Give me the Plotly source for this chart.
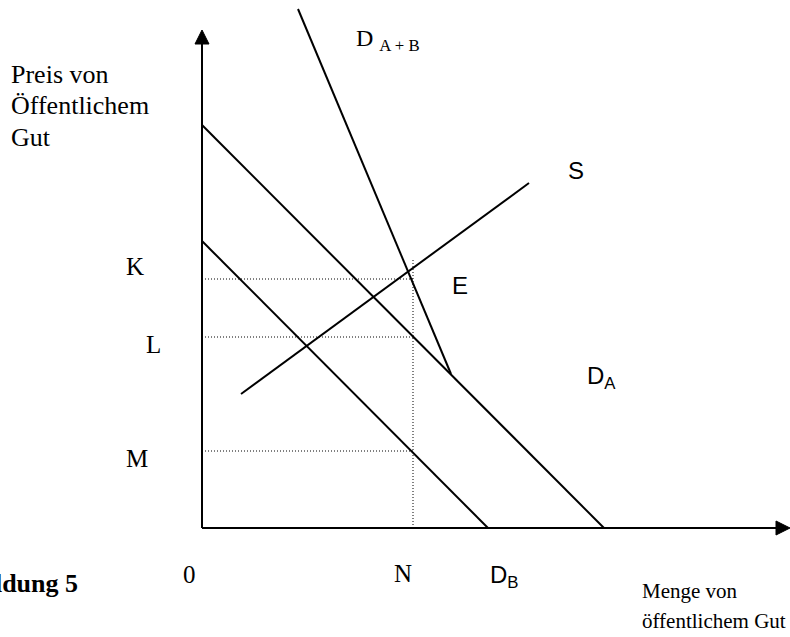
import plotly.graph_objects as go

# Quantity / price coordinates of the diagram (origin at the axis corner)
axis_x_end = 588          # end of the quantity axis (arrow tip)
axis_y_end = 498          # end of the price axis (arrow tip)

# Individual demand curves (price intercept, quantity intercept)
d_a_price, d_a_qty = 403, 402
d_b_price, d_b_qty = 287, 286

# Aggregate demand D(A+B): upper end and the kink on D_A
d_ab_x = [96, 249]
d_ab_y = [519, 154]

# Supply curve S
s_x = [39, 327]
s_y = [134, 345]

# Equilibrium quantity N and price levels K, L, M
n_qty = 211
k_price = 249
l_price = 191
m_price = 77
eq_top = 269

fig = go.Figure()

line_style = dict(color="black", width=2)
dot_style = dict(color="black", width=1, dash="1px,2px")


def seg(xs, ys, style):
    fig.add_trace(go.Scatter(x=xs, y=ys, mode="lines", line=style,
                             hoverinfo="skip", showlegend=False))


def head(points):
    xs = [p[0] for p in points] + [points[0][0]]
    ys = [p[1] for p in points] + [points[0][1]]
    fig.add_trace(go.Scatter(x=xs, y=ys, mode="lines", fill="toself",
                             fillcolor="black", line=dict(color="black", width=1),
                             hoverinfo="skip", showlegend=False))


# Axes with arrowheads
hs = 14
seg([0, 0], [0, axis_y_end - hs + 1], line_style)
head([(-7, axis_y_end - hs), (7, axis_y_end - hs), (0, axis_y_end)])
seg([0, axis_x_end - hs + 1], [0, 0], line_style)
head([(axis_x_end - hs, -7), (axis_x_end - hs, 7), (axis_x_end, 0)])

# Demand curves
seg([0, d_a_qty], [d_a_price, 0], line_style)
seg([0, d_b_qty], [d_b_price, 0], line_style)
seg(d_ab_x, d_ab_y, line_style)

# Supply curve
seg(s_x, s_y, line_style)

# Guide lines
seg([0, n_qty], [k_price, k_price], dot_style)
seg([0, n_qty], [l_price, l_price], dot_style)
seg([0, n_qty], [m_price, m_price], dot_style)
seg([n_qty, n_qty], [0, eq_top], dot_style)

serif = "Liberation Serif"
sans = "Liberation Sans"


def label(text, x, y, font, size, xanchor="center", bold=False):
    if bold:
        text = "<b>" + text + "</b>"
    fig.add_annotation(x=x, y=y, text=text, showarrow=False, xanchor=xanchor,
                       yanchor="middle", borderpad=0,
                       font=dict(family=font, size=size, color="black"))


def px(x, y):
    return x - 202, 528 - y


label("Preis von", *px(10, 74), serif, 26, "left")
label("Öffentlichem", *px(10, 105), serif, 26, "left")
label("Gut", *px(10, 137), serif, 26, "left")
label("D <sub>A + B</sub>", *px(355, 40), serif, 24, "left")
label("S", *px(576, 170), sans, 24)
label("K", *px(135, 266), serif, 25)
label("L", *px(153, 344), serif, 25)
label("M", *px(137, 458), serif, 25)
label("E", *px(460, 285), sans, 24)
label("D<sub>A</sub>", *px(586, 377), sans, 24, "left")
label("0", *px(189, 574), serif, 25)
label("N", *px(403, 573), serif, 25)
label("D<sub>B</sub>", *px(489, 576), sans, 24, "left")
label("Abbildung 5", *px(79, 583), serif, 26, "right", bold=True)
label("Menge von", *px(641, 591), serif, 21, "left")
label("öffentlichem Gut", *px(641, 621), serif, 21, "left")

fig.update_layout(
    width=790, height=637,
    margin=dict(l=0, r=0, t=0, b=0),
    paper_bgcolor="white", plot_bgcolor="white",
    xaxis=dict(range=[-202, 588], visible=False, fixedrange=True),
    yaxis=dict(range=[-109, 528], visible=False, fixedrange=True),
)

fig.write_html("out.html")
